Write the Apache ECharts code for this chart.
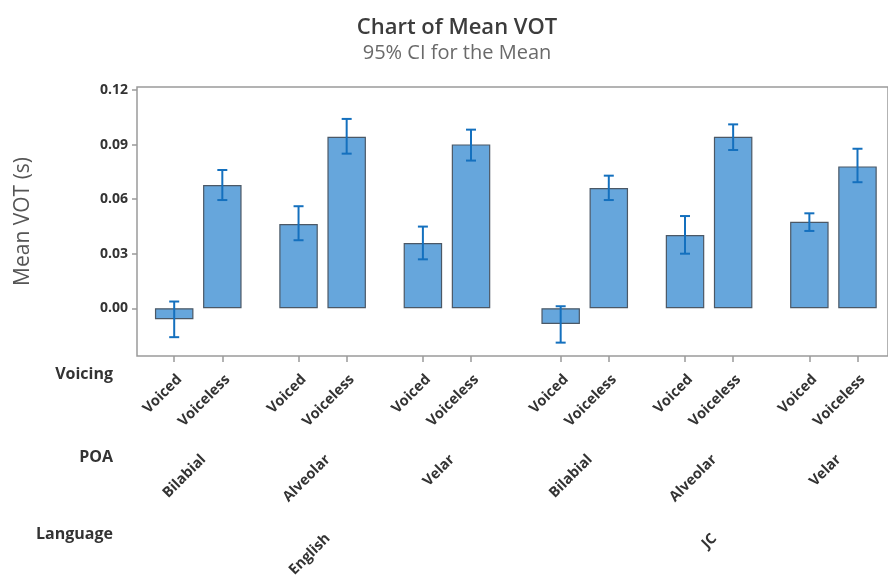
<!DOCTYPE html>
<html>
<head>
<meta charset="utf-8">
<script src="https://cdn.jsdelivr.net/npm/echarts@6/dist/echarts.min.js"></script>
<style>
  html, body { margin: 0; padding: 0; background: #fff; }
  #chart { width: 888px; height: 580px; }
</style>
</head>
<body>
<div id="chart"></div>
<script>
// Mean voice onset time (seconds) with 95% confidence intervals
const languages = ['English', 'JC'];
const placesOfArticulation = ['Bilabial', 'Alveolar', 'Velar'];
const voicings = ['Voiced', 'Voiceless'];

// Bar order: language > POA > voicing
const meanVOT = [-0.0060, 0.0678, 0.0463, 0.0943, 0.0359, 0.0901,
                 -0.0086, 0.0661, 0.0403, 0.0943, 0.0476, 0.0780];
const ciLower = [-0.0159, 0.0595, 0.0374, 0.0850, 0.0269, 0.0812,
                 -0.0189, 0.0595, 0.0300, 0.0870, 0.0425, 0.0693];
const ciUpper = [0.0037, 0.0760, 0.0561, 0.1041, 0.0449, 0.0982,
                 0.0011, 0.0729, 0.0507, 0.1011, 0.0522, 0.0877];

const yTicks = [0.00, 0.03, 0.06, 0.09, 0.12];

// Cluster spacing (in bar slots)
const PAIR_GAP = 0.584;
const LANG_GAP = 0.863;

const TEXT = '#333333';
const FONT = '"Open Sans", "Noto Sans", sans-serif';

// Position of each bar along the x axis
const positions = [];
const voicingLabels = [];
const poaCenters = [], poaLabels = [];
const langCenters = [], langLabels = [];
let pos = 0;
languages.forEach((lang, li) => {
  const langStart = positions.length;
  placesOfArticulation.forEach((poa, pi) => {
    const pairStart = positions.length;
    voicings.forEach((v, vi) => {
      if (positions.length > 0) {
        if (vi > 0) pos += 1;
        else if (pi > 0) pos += 1 + PAIR_GAP;
        else pos += 1 + LANG_GAP;
      }
      positions.push(pos);
      voicingLabels.push(v);
    });
    poaCenters.push((positions[pairStart] + positions[positions.length - 1]) / 2);
    poaLabels.push(poa);
  });
  langCenters.push((positions[langStart] + positions[positions.length - 1]) / 2);
  langLabels.push(lang);
});

const xMin = -0.773;
const xMax = 14.833;

function lookup(values, labels) {
  return function (v) {
    let best = 0, d = Infinity;
    values.forEach((x, i) => { const e = Math.abs(x - v); if (e < d) { d = e; best = i; } });
    return labels[best];
  };
}

const tickLabelStyle = { color: TEXT, fontFamily: FONT, fontSize: 14.5, fontWeight: 'bold' };
const rowNameStyle = { color: TEXT, fontFamily: FONT, fontSize: 16, fontWeight: 'bold' };

// Hidden axis that only carries one row of rotated category labels
function labelAxis(values, labels, offset, margin, name) {
  return {
    type: 'value', min: xMin, max: xMax, position: 'bottom', offset: offset,
    axisLine: { show: false, onZero: false }, axisTick: { show: false }, splitLine: { show: false },
    axisLabel: Object.assign({
      customValues: values, formatter: lookup(values, labels),
      rotate: 45, margin: margin, hideOverlap: false,
      align: 'right', verticalAlign: 'top'
    }, tickLabelStyle),
    name: name, nameLocation: 'start', nameGap: 24,
    nameTextStyle: Object.assign({ align: 'right', verticalAlign: 'middle' }, rowNameStyle)
  };
}

const chart = echarts.init(document.getElementById('chart'), null, { renderer: 'canvas' });

chart.setOption({
  animation: false,
  backgroundColor: '#ffffff',
  graphic: [
    { type: 'text', x: 457, y: 28, style: { text: 'Chart of Mean VOT', textAlign: 'center', textVerticalAlign: 'middle',
      fill: '#3c3c3c', font: '600 22px ' + FONT } },
    { type: 'text', x: 457, y: 53, style: { text: '95% CI for the Mean', textAlign: 'center', textVerticalAlign: 'middle',
      fill: '#6a6a6a', font: '400 20px ' + FONT } }
  ],
  grid: { left: 137, right: -2, top: 87, bottom: 224, show: true, borderColor: '#9a9a9a', borderWidth: 1.5 },
  xAxis: [
    {
      type: 'value', min: xMin, max: xMax, position: 'bottom',
      axisLine: { show: false, onZero: false }, splitLine: { show: false },
      axisTick: { show: true, customValues: positions, length: 6, lineStyle: { color: '#9a9a9a', width: 1.5 } },
      axisLabel: { show: false }
    },
    labelAxis(positions, voicingLabels, 19, -3, 'Voicing'),
    labelAxis(poaCenters, poaLabels, 102, -6, 'POA'),
    labelAxis(langCenters, langLabels, 179, -4, 'Language')
  ],
  yAxis: {
    type: 'value', min: -0.0262, max: 0.12165,
    axisLine: { show: false, onZero: false }, splitLine: { show: false },
    axisTick: { show: true, customValues: yTicks, length: 5, lineStyle: { color: '#9a9a9a', width: 1.5 } },
    axisLabel: Object.assign({ customValues: yTicks, formatter: v => v.toFixed(2), margin: 9 },
      tickLabelStyle, { fontSize: 14 }),
    name: 'Mean VOT (s)', nameLocation: 'middle', nameGap: 103, nameRotate: 90,
    nameTextStyle: { color: '#555555', fontFamily: FONT, fontSize: 21, fontWeight: 400 }
  },
  series: [
    {
      type: 'bar', xAxisIndex: 0, barWidth: 38.5,
      data: positions.map((x, i) => [x, meanVOT[i]]),
      itemStyle: { color: '#66a6dc', borderColor: '#4b5866', borderWidth: 1.2 }
    },
    {
      type: 'custom', xAxisIndex: 0,
      data: positions.map((x, i) => [x, ciLower[i], ciUpper[i]]),
      encode: { x: 0, y: [1, 2] },
      renderItem: function (params, api) {
        const lo = api.coord([api.value(0), api.value(1)]);
        const hi = api.coord([api.value(0), api.value(2)]);
        const half = 5;
        const style = { stroke: '#1470be', lineWidth: 2, fill: null };
        return {
          type: 'group',
          children: [
            { type: 'line', shape: { x1: hi[0], y1: hi[1], x2: lo[0], y2: lo[1] }, style: style },
            { type: 'line', shape: { x1: hi[0] - half, y1: hi[1], x2: hi[0] + half, y2: hi[1] }, style: style },
            { type: 'line', shape: { x1: lo[0] - half, y1: lo[1], x2: lo[0] + half, y2: lo[1] }, style: style }
          ]
        };
      },
      z: 5
    }
  ]
});
</script>
</body>
</html>
